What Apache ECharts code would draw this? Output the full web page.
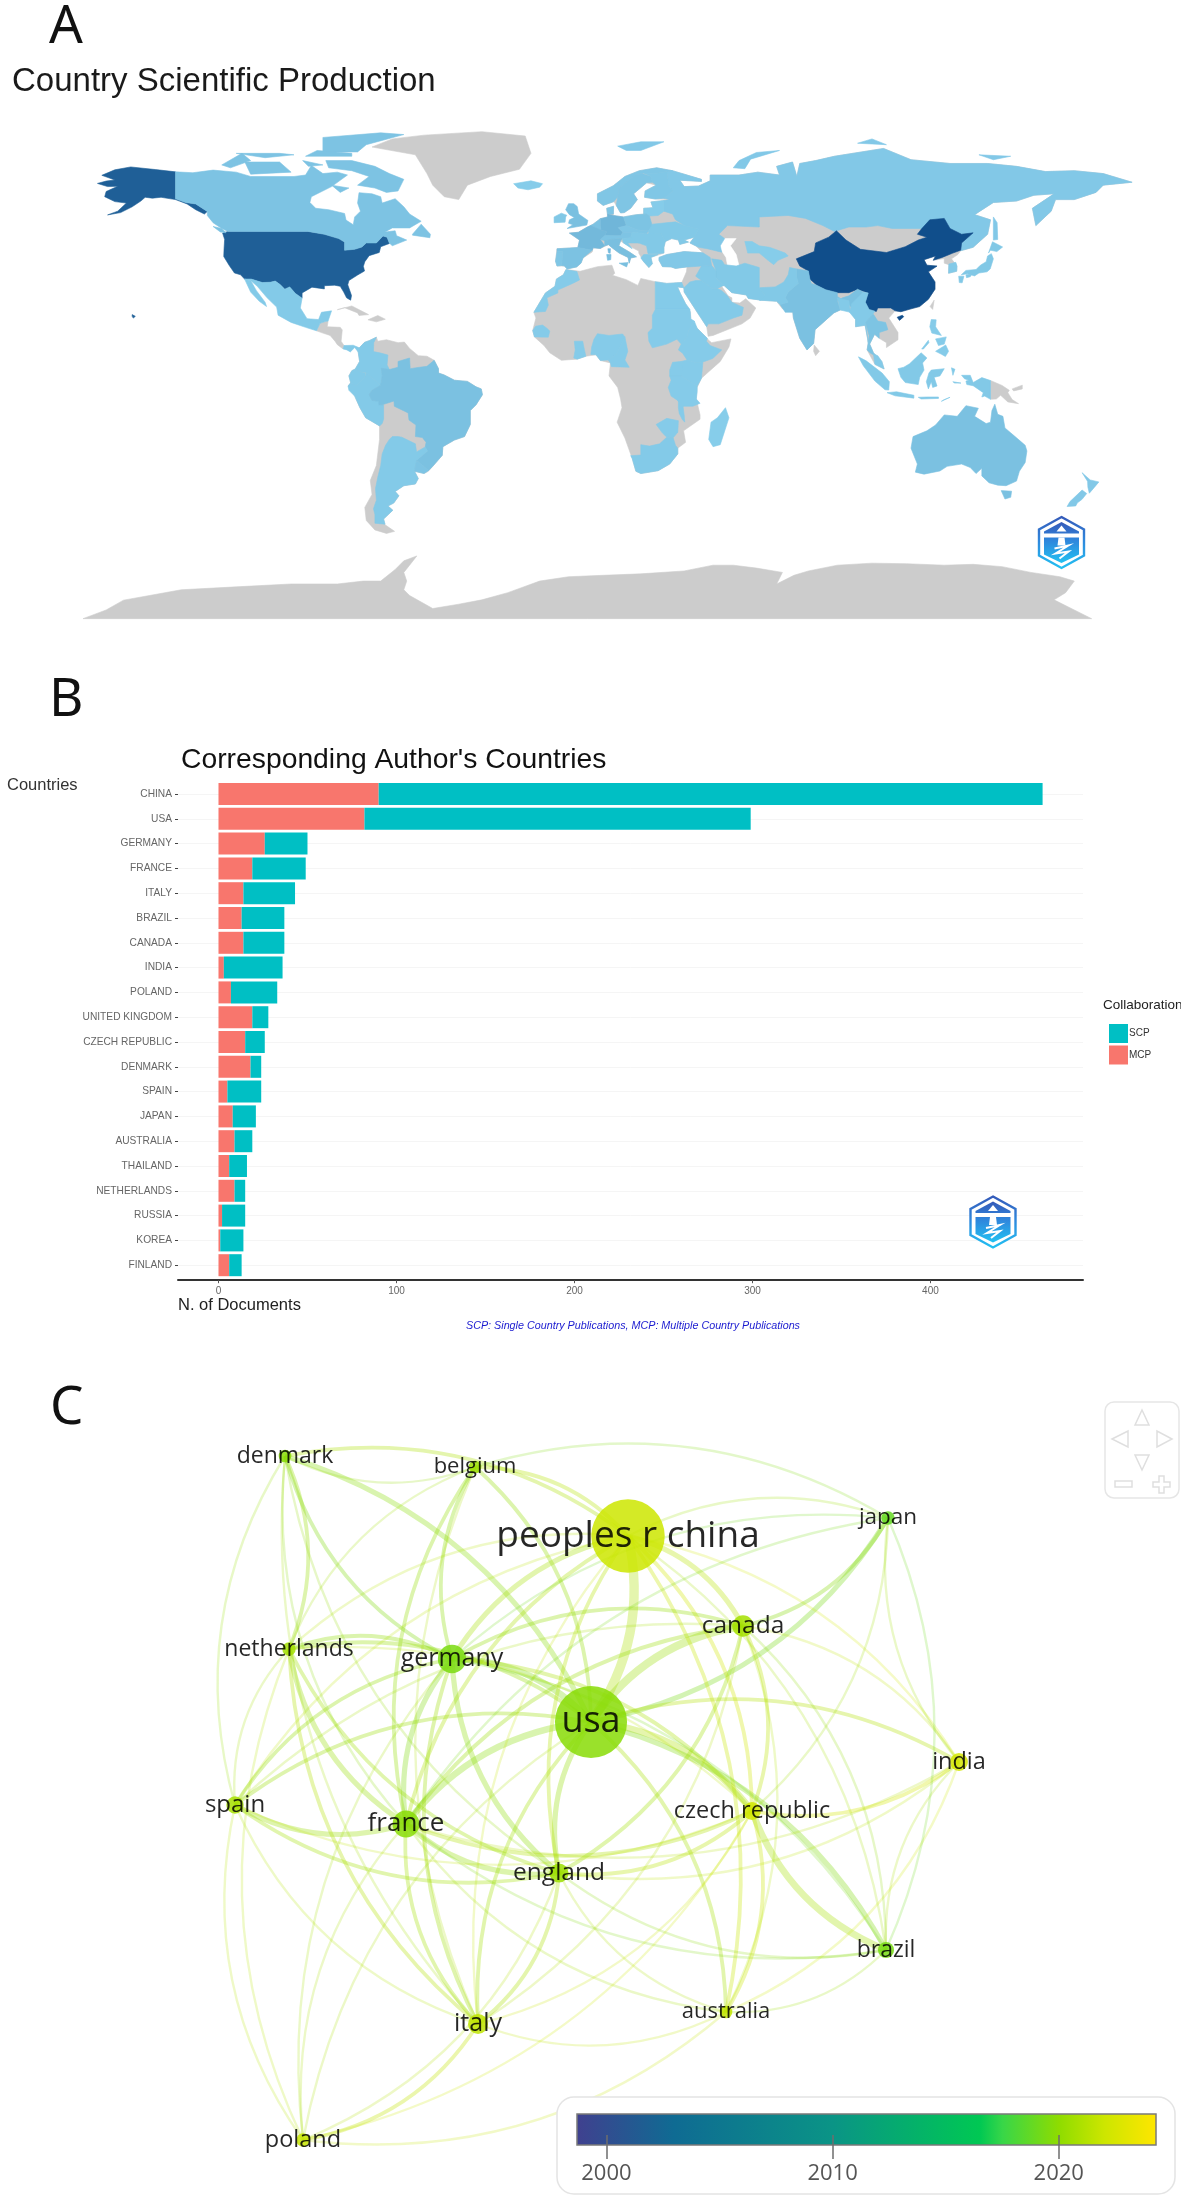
<!DOCTYPE html>
<html>
<head>
<meta charset="utf-8">
<title>Country production and collaboration</title>
<script src="https://cdn.jsdelivr.net/npm/echarts@6/dist/echarts.min.js"></script>
<style>
html,body{margin:0;padding:0;background:#fff;}
#main{width:1181px;height:2200px;}
</style>
</head>
<body>
<div id="main"></div>
<script>
// panel A: documents per country, colour is linear between the two blues
var mapCountries = ['China','USA','Alaska','Hawaii','Germany','France','Italy','Spain','Portugal','UK','Ireland','Benelux','Denmark','Norway','Sweden','Finland','Iceland','Baltics','Poland','CzechSlovakia','AlpineStates','Adriatic','Danube','Ukraine','Greece','Russia','Sakhalin','Novaya Zemlya','Severnaya Zemlya','Svalbard','Canada','Baffin','Ellesmere','Victoria Isl','Banks','Devon','Melville','Somerset','Southampton','Newfoundland','Vancouver','Mexico','Baja','Panama','Colombia','Ecuador','Peru','Brazil','Argentina','Uruguay','Morocco','Egypt','Sudan','Ethiopia','Kenya','Uganda','Tanzania','Malawi','Zimbabwe','South Africa','Nigeria','Cameroon','Ghana','Senegal','Madagascar','Turkey','Iran','Iraq','Saudi Arabia','Uzbekistan','Pakistan','India','Bangladesh','Myanmar','Thailand','Malaysia','Sumatra','Java','Borneo','Sulawesi','West Papua','Sunda','Halmahera','Seram','Luzon','Mindanao','Visayas','Palawan','Honshu','Kyushu','Shikoku','Hokkaido','South Korea','Australia','Tasmania','NZ North','NZ South'];
var mapValues = [1000,870,870,870,190,165,120,95,60,110,50,90,70,60,70,55,15,15,80,60,75,40,40,40,40,45,45,45,45,45,85,85,85,85,85,85,85,85,85,85,85,30,30,30,30,30,30,105,30,75,20,25,20,20,20,20,20,20,20,35,20,20,20,20,10,45,40,30,35,10,40,105,30,30,80,30,40,40,40,40,40,40,40,40,20,20,20,20,50,50,50,50,30,100,100,45,45];

// panel B: corresponding author's countries
var barCountries = ['CHINA','USA','GERMANY','FRANCE','ITALY','BRAZIL','CANADA','INDIA','POLAND','UNITED KINGDOM','CZECH REPUBLIC','DENMARK','SPAIN','JAPAN','AUSTRALIA','THAILAND','NETHERLANDS','RUSSIA','KOREA','FINLAND'];
var mcpValues = [90,82,26,19,14,13,14,3,7,19,15,18,5,8,9,6,9,2,1,6];
var scpValues = [373,217,24,30,29,24,23,33,26,9,11,6,19,13,10,10,6,13,13,7];
var docTicks = [0,100,200,300,400];

// panel C: collaboration network, positions
var nodeNames = ['peoples r china','usa','germany','france','canada','england','italy','spain','czech republic','india','brazil','netherlands','denmark','belgium','japan','australia','poland'];
var nodeX = [628,591,452,406,743,559,478,235,752,959,886,289,285,475,888,726,303];
var nodeY = [176,362,299,464,266,513,664,445,451,402,590,289,96,107,158,652,780];
var nodeWeight = [135,130,20,18,11.5,9,10,7.5,8,8,6.5,4.5,4,4,4.5,4,4.5];
var nodeYear = [2022,2019.8,2019.4,2019.8,2020.7,2020.4,2021.5,2020.8,2022.2,2022.3,2019.3,2020.6,2019.8,2020.4,2018.8,2021.6,2021.8];
var nodeFontSize = [37,36,25,26,24.5,24.5,25,24,23.5,23.5,23,23,23,22,22.5,22,23.5];
var netLinks = [
  ['usa','peoples r china',6],['usa','germany',4],['usa','france',4],['usa','canada',5],['usa','england',3],['usa','czech republic',4],['usa','brazil',3],['usa','japan',3],['usa','italy',2],['usa','netherlands',2],['usa','denmark',3],['usa','belgium',2],['usa','spain',2],['usa','india',2],['usa','australia',2],['usa','poland',1],
  ['peoples r china','canada',3],['peoples r china','germany',3],['peoples r china','belgium',2],['peoples r china','denmark',2],['peoples r china','france',2],['peoples r china','england',2],['peoples r china','japan',1],['peoples r china','czech republic',2],['peoples r china','australia',2],['peoples r china','italy',1],['peoples r china','netherlands',1],['peoples r china','india',1],['peoples r china','brazil',1],['peoples r china','spain',1],
  ['germany','france',3],['germany','england',3],['germany','denmark',2],['germany','netherlands',2],['germany','belgium',2],['germany','italy',2],['germany','spain',2],['germany','canada',2],['germany','czech republic',2],['germany','poland',1],['germany','japan',1],['germany','brazil',1],
  ['france','england',3],['france','spain',3],['france','italy',2],['france','netherlands',3],['france','belgium',2],['france','canada',2],['france','denmark',1],['france','czech republic',2],['france','japan',1],['france','brazil',1],['france','india',1],['france','poland',1],['france','australia',1],
  ['england','italy',2],['england','spain',2],['england','netherlands',2],['england','czech republic',2],['england','canada',2],['england','australia',1],['england','india',1],['england','brazil',1],['england','denmark',1],['england','poland',1],
  ['canada','czech republic',2],['canada','japan',2],['canada','india',1],['canada','brazil',1],['canada','italy',1],['canada','australia',1],['canada','spain',1],
  ['czech republic','brazil',4],['czech republic','india',2],['czech republic','australia',2],['czech republic','italy',1],['czech republic','spain',1],['czech republic','netherlands',1],['czech republic','poland',1],['czech republic','japan',1],
  ['denmark','netherlands',2],['denmark','belgium',1],['denmark','italy',1],['denmark','spain',1],
  ['belgium','netherlands',1],['belgium','japan',1],['belgium','italy',1],
  ['netherlands','spain',1],['netherlands','italy',2],['netherlands','poland',1],
  ['spain','italy',1],['spain','poland',1],
  ['india','japan',1],['india','brazil',1],['india','australia',1],
  ['australia','poland',1],['australia','brazil',1],['australia','italy',1],
  ['italy','poland',2],['japan','brazil',1]
];
var inwardLinks = ['india|japan','india|brazil','usa|peoples r china','czech republic|brazil','denmark|netherlands','canada|japan','usa|japan','denmark|belgium'];

// colour bar of panel C
var yearStops = [1998.7,2003,2010,2016.5,2017.5,2020,2022,2024.3];
var yearColors = ['#40408f','#0f6b93','#0a9486','#00c853','#38d648','#8fdc00','#cde600','#ffe600'];
var yearTicks = [2000,2010,2020];

// coarse outlines in lon/lat, grey land first so coloured countries lie over it
var mapShapes = {
 'Eurasia':['-9 43,-1.8 43.4,-1.2 46,-4.7 48.4,-1.6 48.7,1.5 50.5,3.5 51.5,6 53.4,8.5 54,8.2 57,10.6 57.7,10.5 54.5,14 54,18.5 54.8,21 55,21 57,24.2 57.2,23.5 59.2,28 59.7,30 60,25 60.2,21.3 60.8,21.5 63,25.3 65,22 65.8,17.5 62,18.8 60,16.5 57,14.3 55.5,13 55.4,11.5 58,10.7 59.3,7 58,5 59.5,5 62,10.5 64.8,14.5 68,19.5 70,25.5 71,31 70,41 67,41 66.3,33.5 66.7,35 64.5,40 64.7,44 66.5,44 68.5,54 68.5,60.5 69.5,68 68.5,67 71.5,72.5 73,74 68,75 72.5,80.5 73.5,87 75,104 77.7,113.5 73.8,127 72.5,140 72.5,150 71.5,160 69.7,170 70,180 69,190 66,180 65,177.5 62.5,170 60,163.5 60,162 56,156.7 51,155.5 57,163 62,156 61.5,150 59.5,142 59,135.5 54.8,141 53,140 48,135 43.5,130.7 42.3,129.7 41,127.5 39.5,129.4 37,129.3 35.2,126.5 34.5,126.6 37.5,125 38,125 39.6,121.2 39,122 40.5,118 39.2,119 37.3,122.5 37,119.5 35,121.8 31.5,121.8 29,119.5 25.5,116.5 23,113.5 22.2,110 21.2,108 21.5,105.8 19,109 14,109 11.5,105 8.8,105 10.5,102.5 12,100.9 13.4,99.2 10,100.5 7,103.4 4,104.2 1.4,101 3,98.3 8,98.7 10.5,97.6 16.5,94.3 16,94.3 18.5,91.8 22.3,89 21.8,86.8 20.8,80.3 15,80.1 13,79.8 10.2,77.5 8,75 12,72.8 19,72.6 21,69 22.2,67 24.8,61.6 25.2,57.2 25.8,56.5 27,51.5 27.8,48.8 30.3,48 30,50.2 26.7,51.5 26,51.5 24.5,54.3 24.2,56.3 25.7,59.8 22.5,57.8 19,55 17,45 13,43.3 12.7,42.8 16,39.2 21.5,35 28,34.9 29.5,34.2 31.3,35.8 35,36 36.7,32 36.2,30.5 36.7,27.5 36.8,26.3 39,26.3 40,29 41,35 42,41.5 41.6,39 44,37 45,38.5 47,35 46,36.5 45.3,33.5 44.5,33 46,30.7 46.5,28.5 45.5,28 43.5,28 41.5,26 40.8,23.5 40,24 37.8,22.8 36.5,21 38.5,19.3 41.5,19.3 42.2,14 45,13 45.7,12.4 44,16 41.9,18.5 40.2,16.5 39.8,16 38,15.6 40,12.5 41.5,10.5 43,8.8 44.4,6 43.1,3.5 43.3,3.2 41.9,0 39.8,-0.7 38,-2.2 36.7,-5.5 36,-6.4 37,-9 37,-9.5 38.7'],
 'Africa':['-5.9 35.8,-1 35.2,5 36.8,10 37.3,11 34.5,10.2 33.8,15 32.3,19 30.3,20 32.7,25 31.6,29 31,32.3 31.2,34.2 31.3,34.9 29.5,32.7 29.8,33.7 27.5,35.5 24,37.2 21,37.3 18.7,39.5 15.5,43 12,43.3 11.5,44.5 10.5,51.2 11.8,50.5 9,47.5 4,43 0,41 -1.8,39.5 -5,39.2 -9,40.5 -14.5,40.5 -16,34.8 -20,35.5 -24,32.8 -26,32.8 -28,30 -31.5,26 -33.8,20 -34.8,18.3 -34,17 -29.5,14.5 -22.5,11.8 -17,13.5 -12,13 -9,12 -5,9 -1,9.5 3.5,6 4.3,4.5 6.3,1 5.8,-2 4.8,-7.5 4.4,-11.5 7,-13.5 9.5,-16.8 12.5,-17.4 14.7,-16.3 19,-17 21,-13 27.7,-9.7 30,-9.2 32.5,-6.8 34'],
 'South America':['-77.4 8.7,-75.6 10.6,-74 11.2,-71.5 12.4,-71 11,-68 11.5,-64 10.5,-61.8 10.7,-60 8.5,-57 6,-54 5.8,-51.5 4.4,-50 1.5,-50 0,-48 -0.7,-44.5 -2.5,-40 -2.9,-37 -4.8,-35.2 -5.5,-34.8 -7.5,-37 -11,-39 -13,-39 -17.8,-41 -22,-44.5 -23.2,-48.5 -25.5,-48.7 -28.5,-52 -32.3,-53.5 -34,-55 -34.8,-58.3 -34,-57 -36.5,-58 -38.4,-62 -39,-65 -41,-63.7 -42.5,-65.5 -45,-67.5 -46,-65.8 -47.5,-69 -50.5,-68.5 -52.5,-65.2 -54.8,-68 -55.5,-72 -54.3,-75 -51,-75.5 -46.5,-73 -42,-73.6 -37.2,-71.5 -32,-70.4 -23,-70.4 -18.3,-75.2 -15.5,-77.2 -12,-79 -8,-81.3 -4.5,-80.4 -3.4,-81 -1,-80 0.8,-78.8 1.4,-77.3 4,-77.8 7.3'],
 'Greenland':['-73 78.2,-66 81,-55 82.3,-35 83.5,-20 82,-18 76,-22 70.5,-32 68,-40 65,-43 60,-48 61,-52 65,-54 69,-58 75.5'],
 'Antarctica':['-173 -85,-165 -82,-159 -78.6,-150 -77,-139 -75,-120 -74,-101 -73,-85 -73,-76 -72,-70 -72,-65 -68,-62 -65,-57.5 -63.3,-60 -66.5,-62 -69,-61 -72,-62 -75,-60 -77,-52 -81.5,-43 -80,-35 -78.5,-26 -76,-15 -72,-5 -70.5,7 -70,20 -69.5,35 -68.5,45 -66.5,52 -66.5,60 -67.5,69 -69,67 -73,73 -70,78 -68.5,88 -66.5,100 -65.8,112 -66,125 -66.5,135 -66.2,145 -67,155 -69,165 -70.5,170 -72,167 -76,163 -78.5,170 -82,176 -85'],
 'Central America':['-92.2 14.6,-91 17.2,-89.2 17.8,-88.2 18,-88.5 16,-84 15.8,-83.3 14.9,-83.7 11,-82.7 9.5,-83 8.3,-85 9.8,-85.8 11,-87.5 13,-90 13.8'],
 'Cuba':['-85 21.9,-80 23.2,-74.2 20.2,-77.5 19.9,-78 20.8,-82.5 22.6'],
 'Hispaniola':['-74.4 18.4,-71 19.9,-68.4 18.6,-71.5 17.7'],
 'Sri Lanka':['80 9.7,81.8 7.5,80.5 6,79.8 7.5'],
 'Taiwan':['121.5 25.2,121 22,120.1 23'],
 'Papua New Guinea':['141 -2.6,145 -4.3,147.5 -6,147 -6.8,148.5 -9.2,150.7 -10.6,147 -10,144.5 -7.7,143 -9,141 -9.1'],
 'New Britain':['148.5 -5.5,152 -4.2,152 -5.5,149 -6.2'],
 'Caspian':['47 45,49 46.5,53 46.5,51 44,53 41,54 37,50 37.3,49.5 40,47.5 43'],
 'USA':['-124.7 48.4,-122.8 49,-95.2 49,-89.5 48,-84.5 46.5,-82.5 45.3,-82.5 42.5,-79 42.8,-76.5 43.6,-75 45,-71.5 45,-69.2 47.4,-67.8 47,-67 44.8,-70 43.7,-70.5 41.7,-74 40.6,-75.5 38.5,-76 36.9,-75.6 35.3,-78 33.9,-81 32,-81.4 30.5,-80.1 26.8,-80.4 25.2,-81.8 26,-82.8 28,-84 30,-86 30.4,-89.5 30.2,-89.5 29.1,-93.8 29.7,-97.2 27.7,-97.2 25.9,-99.5 27.5,-101.5 29.8,-103.2 29,-104.8 30.6,-106.5 31.8,-108.2 31.4,-111 31.3,-114.8 32.5,-117.1 32.5,-118.5 34,-120.6 34.6,-122.4 37.2,-124.3 40.3,-124.2 43,-124 46.2'],
 'Alaska':['-141 69.6,-148 70.4,-156.5 71.3,-162 70.3,-166.5 68.4,-162 66.8,-165 66.4,-168 65.6,-164.5 64.5,-161 64.6,-165 62.8,-165.5 61,-162 59.3,-158 58.8,-161 56,-164.5 54.7,-160 55.5,-156 57.5,-153 59.5,-151.5 60.8,-149 60.5,-146 60.8,-141 60,-137 58.5,-134 56.5,-131 55,-130 55.9,-134 58.5,-137.5 59,-141 60.3'],
 'Hawaii':['-156 20.2,-154.9 19.6,-155.6 19,-156 19.6'],
 'Canada':['-141 69.6,-135 69.3,-128 70.2,-120 69.5,-115 68,-108 68,-100 68,-96 68.5,-94 71.8,-90 69,-85 69.5,-81.5 68.5,-87 64.5,-94 61,-94.5 59,-92.5 57,-88 56.5,-82.5 55.2,-82 52.9,-79.5 51.3,-79 54,-77 56,-78 58.8,-77.5 62.4,-73 62,-70 61,-69.5 58.8,-65 60.3,-62 57.5,-60 55,-56 52.5,-60 50.2,-66 50.2,-68.5 48.8,-65 49.2,-64.5 47.5,-61 46,-66 44,-67 45,-67.8 47,-69.2 47.4,-71.5 45,-75 45,-76.5 43.6,-79 42.8,-82.5 42.5,-82.5 45.3,-84.5 46.5,-89.5 48,-95.2 49,-122.8 49,-125 50,-128 52,-130 54.5,-130 55.9,-134 58.5,-137.5 59,-141 60.3'],
 'Baffin':['-80 73.5,-72 71.5,-67 69,-62 67,-64 63,-68 62.5,-72 64,-78 65,-74 68,-80 70,-88 71,-89 73.5'],
 'Victoria Isl':['-117 73,-105 73,-101 69.5,-115 68.8'],
 'Banks':['-125 72,-118 76,-115 73.5,-122 71'],
 'Ellesmere':['-90 76.5,-78 76.5,-75 79,-62 82.5,-70 83.1,-90 81.5'],
 'Melville':['-120 76,-105 76,-100 75.5,-110 74.5'],
 'Devon':['-96 75,-80 75,-80 76,-92 77'],
 'Somerset':['-97 73.5,-90 72,-95 71.5'],
 'Southampton':['-87 65,-81 64,-84 62.5'],
 'Newfoundland':['-59 47.7,-53 46.8,-52.8 48,-56 51.5,-59 48'],
 'Vancouver':['-128 50.7,-125 50,-123.5 48.5,-125.5 48.8'],
 'Mexico':['-117.1 32.5,-114.8 32.5,-111 31.3,-108.2 31.4,-106.5 31.8,-104.8 30.6,-103.2 29,-101.5 29.8,-99.5 27.5,-97.2 25.9,-97.8 22.5,-95.5 18.8,-91.5 18.5,-90.5 21,-87 21.5,-88.2 18,-89.2 17.8,-91 17.2,-92.2 14.6,-96 15.8,-101 17.5,-105.5 20,-106 22.8,-109.3 26,-112.7 30,-114.8 31.8'],
 'Baja':['-117.1 32.5,-114.9 31.8,-113 28.5,-110 24.5,-109.5 23,-112 24.8,-115 28'],
 'Panama':['-83 8.3,-82.7 9.5,-79.5 9.6,-77.4 8.7,-77.8 7.3,-79 8.8,-80.5 7.3,-81.7 8'],
 'Colombia':['-77.4 8.7,-75.6 10.6,-74 11.2,-71.5 12.4,-72.4 10.5,-72.5 7.4,-70 6.9,-67.5 6.2,-67.8 2.8,-67 1.2,-69.8 1.7,-69.5 -1,-70 -4.2,-72 -2.5,-75 0.1,-77 0.4,-78.8 1.4,-77.3 4,-77.8 7.3'],
 'Ecuador':['-78.8 1.4,-77 0.4,-75.3 -0.1,-75.5 -1.5,-78.5 -4.5,-80.4 -3.4,-81 -1,-80 0.8'],
 'Peru':['-81.3 -4.5,-80.4 -3.4,-78.5 -4.5,-75.5 -1.5,-75 0.1,-72 -2.5,-70 -4.2,-73 -6,-74 -7.5,-73 -9.5,-70.6 -9.8,-70.6 -11,-69 -11,-69 -16,-69.5 -17.5,-70.4 -18.3,-75.2 -15.5,-77.2 -12,-79 -8,-81 -6'],
 'Brazil':['-51.5 4.4,-50 1.5,-50 0,-48 -0.7,-44.5 -2.5,-40 -2.9,-37 -4.8,-35.2 -5.5,-34.8 -7.5,-37 -11,-39 -13,-39 -17.8,-41 -22,-44.5 -23.2,-48.5 -25.5,-48.7 -28.5,-52 -32.3,-53.4 -33.7,-57.6 -30.2,-53.8 -27,-54.6 -25.6,-54.3 -24,-55.6 -22.3,-58 -22,-57.8 -18,-60.2 -16.3,-60.5 -13.8,-65.3 -11.5,-65.4 -9.7,-69.5 -11,-70.6 -11,-70.6 -9.8,-73 -9.5,-74 -7.5,-73 -6,-70 -4.2,-69.5 -1,-69.8 1.7,-67 1.2,-64 2,-64 4,-60 5.2,-59.8 1.5,-56.5 2,-54 2.3'],
 'Argentina':['-66 -22,-64 -22,-62.7 -22.2,-58 -24.5,-57.6 -27.3,-54.6 -25.6,-53.8 -27,-57.6 -30.2,-58.3 -34,-57 -36.5,-58 -38.4,-62 -39,-65 -41,-63.7 -42.5,-65.5 -45,-67.5 -46,-65.8 -47.5,-69 -50.5,-68.5 -52.3,-72 -52,-72 -49,-72.5 -47,-71.5 -44,-71.8 -40,-71 -36,-70 -32,-69.5 -28,-68.3 -25,-67 -23'],
 'Uruguay':['-57.6 -30.2,-53.4 -33.7,-53.5 -34,-55 -34.8,-58.3 -34'],
 'Morocco':['-5.9 35.8,-2.1 35.1,-1.2 32.2,-3.6 31,-8.7 28.7,-8.7 27.7,-12.5 26,-12 23.5,-13 21.3,-17 21,-13 27.7,-9.7 30,-9.2 32.5,-6.8 34'],
 'Egypt':['25 31.6,29 31,32.3 31.2,34.2 31.3,34.9 29.5,32.7 29.8,33.7 27.5,35.5 24,37 22,25 22,25 29.5'],
 'Sudan':['25 22,37 22,37.3 18.7,38.5 18,36.5 14.5,36 12.5,34 10,32.5 11.7,29 10,24 8.7,22.8 11,22.5 14,24 15.5,24 20'],
 'Ethiopia':['36.5 14.5,38.5 18,39.5 15.5,43 12,42.7 11,44 9.5,48 8,44.9 5,42 4,39.5 3.5,36 4.5,34.5 6.8,33 8,34 10,36 12.5'],
 'Kenya':['34 4,36 4.5,39.5 3.5,41.5 3.9,41 -1.8,39.5 -4.6,37.7 -3.5,34 -1'],
 'Uganda':['30 -1,34 -1,34.5 1,34 4,31 3.7,30 1'],
 'Tanzania':['30 -1,34 -1,37.7 -3.5,39.5 -4.6,39.5 -6.5,39.2 -9,40.5 -10.5,38 -11.5,34.6 -11.5,32.5 -9.3,30.5 -8,29.5 -5,30.5 -2.5'],
 'Malawi':['33 -9.5,34.6 -11.5,35 -14.5,35.2 -17,34.3 -16,33.3 -14,33 -12'],
 'Zimbabwe':['25.3 -17.8,29 -15.7,33 -16.5,32.8 -20.5,31.2 -22.4,29 -22.2,27.5 -20.8'],
 'South Africa':['16.5 -28.6,20 -28.4,20 -24.8,23 -25.3,26.5 -24.5,29 -22.2,31.2 -22.4,32 -25,32.8 -26,32.8 -28,30 -31.5,26 -33.8,20 -34.8,18.3 -34,17 -29.5'],
 'Nigeria':['2.7 6.4,3 9,3.8 11.7,5 13.6,9 13,13.7 13.5,14.5 12.5,13 9.5,11.5 6.5,8.7 4.5,6 4.3,4.5 6.3'],
 'Cameroon':['8.7 4.5,11.5 6.5,13 9.5,14.5 12.5,15 10,15.5 7.5,14.5 4.5,16 2,9.8 2.2,9.5 3.5'],
 'Ghana':['-3 11,-0.1 11,0.5 8,1 5.8,-2 4.8,-3.2 5.2,-2.7 8'],
 'Senegal':['-16.8 12.5,-12 12.4,-11.5 14.5,-12.5 15.5,-14 16.6,-16.4 16.2,-17.4 14.7'],
 'Madagascar':['49.3 -12,50.5 -15.5,47.5 -24.8,45 -25.5,43.5 -23,44.3 -17,46.5 -15.5'],
 'Russia':['28 59.7,30 60,28 60.5,31 62.9,29.7 65,29 69.7,31 70,41 67,41 66.3,33.5 66.7,35 64.5,40 64.7,44 66.5,44 68.5,54 68.5,60.5 69.5,68 68.5,67 71.5,72.5 73,74 68,75 72.5,80.5 73.5,87 75,104 77.7,113.5 73.8,127 72.5,140 72.5,150 71.5,160 69.7,170 70,180 69,190 66,180 65,177.5 62.5,170 60,163.5 60,162 56,156.7 51,155.5 57,163 62,156 61.5,150 59.5,142 59,135.5 54.8,141 53,140 48,135 43.5,130.7 42.3,131 45,135 48.5,131 48,127 50,125 53.5,120 53,120 50,114 50,107 50,102 51,98 50.5,92 50.5,87 49,83 51,77 53.5,71 54.5,61 54,61 50.5,50 51,47 48,49 46.5,47.5 44,48 41.8,43 43,40 43.5,37 45,38.5 47,40 49.7,35 51,32 53,31 55,28 56'],
 'China':['73.8 39.5,80 42,80.5 45,85 47,87.7 49.2,91 46,96 42.8,105 41.7,111.5 43.7,116 46,119 47,115.7 48,117 49.7,120 53,125 53.5,127 50,131 48,135 48.5,131 45,130.7 42.5,128 41.5,124.3 40,121.2 39,122 40.5,118 39.2,119 37.3,122.5 37,119.5 35,121.8 31.5,121.8 29,119.5 25.5,116.5 23,113.5 22.2,110 21.2,108 21.5,106.5 22.5,102 22.5,101.5 21.3,99 22,97.7 24.5,98.7 27.7,95 29,92 27.8,88 27.8,84 28.8,81 30.3,78.5 32.5,78 35.3,75 37','108.7 19.3,110.5 20,111 19.5,109.5 18.2'],
 'India':['68.2 23.7,70 21,72.6 21,72.8 19,75 12,77.5 8,79.8 10.2,80.1 13,80.3 15,86.8 20.8,89 21.8,88 25,89.8 26,92 26.7,95 29,97 28,95 25.8,93 22.5,91.8 24,92 25,89.8 25.3,88 26.5,88 27.8,84 28.8,81 30.3,79 31,78.5 32.5,78 35.3,74 36,74 33,74.5 31,71 28,70 26,71 24.5'],
 'Bangladesh':['88 26,92 25,92.5 21,89 21.8'],
 'Myanmar':['92.2 21,93 24,94.5 25.5,97 28,98.7 27.7,97.7 24.5,99 22,101 21.4,100 20,97.8 17.5,98.7 10.5,98.5 12,97.6 16.5,94.3 16,94.3 18.5'],
 'Thailand':['97.8 17.5,100 20,100.5 20.3,102 18,104.7 17.5,105.5 15,102.5 14,102.5 12,100.9 13.4,99.2 10,100.5 7,101.5 5.8,99.5 6.8,98.3 8,98.7 10.5,99 13'],
 'Malaysia':['100.5 6.6,102 6,103.4 4,104.2 1.4,101 3'],
 'Pakistan':['61 25.2,67 24.8,68.2 23.7,71 24.5,70 26,71 28,74.5 31,74 33,74 36,71.5 36.5,71 34,69.5 31.5,66.5 29.8,61 29.5,63 27'],
 'Iran':['44.5 39.5,48 39,49 37.5,53 37,56 38,61 36.5,61 31.5,61 29.5,63 27,61.6 25.2,57.2 25.8,56.5 27,51.5 27.8,48.8 30.3,46 33,46 35.5'],
 'Iraq':['39 33.5,41 37,44.5 37.2,46 35.5,46 33,48.8 30.3,48 30,46.5 29.2,44.7 29.2,41 32'],
 'Saudi Arabia':['34.9 29.5,37 31.5,39 32,41 32,44.7 29.2,46.5 29.2,48 28.5,50 26.7,51.5 24.5,55.5 22.7,55 20,52 19,47 17,43.3 17,42.8 16,39.2 21.5,35 28'],
 'Turkey':['26.3 40,29 41,35 42,41.5 41.6,44 40,44.5 37.2,41 37,36.5 36.7,36 36.7,32 36.2,30.5 36.7,27.5 36.8,26.3 39'],
 'Uzbekistan':['56 45.5,58.5 45.5,61 44,64.5 43.5,66 43,70 41.5,71 40.5,67.5 39,66 37.5,64 39,61 41.5,57 41.5'],
 'Norway':['5 59.5,7 58,10.7 59.3,12 61,12.5 64,15 66,18 68.5,21 69.2,25 69,29 69.7,31 70,25.5 71,19.5 70,14.5 68,10.5 64.8,5 62'],
 'Sweden':['11.5 58,13 55.4,14.3 55.5,16.5 57,18.8 60,17.5 62,22 65.8,24 66,23.5 68,20.5 69,18 68.5,15 66,12.5 64,12 61'],
 'Finland':['21.3 60.8,25 60.2,28 60.5,31 62.9,29.7 65,29 69.7,25 69,21 69.2,23.5 68,24 66,25.3 65,21.5 63'],
 'Baltics':['21 55,21 57,24.2 57.2,23.5 59.2,28 59.7,28 56,26 54.5,23 54.3,22 55'],
 'Denmark':['8.5 54.9,8.2 57,10.6 57.7,10.5 55'],
 'Germany':['6 53.4,8.5 54,8.5 54.9,10.5 54.5,14 54,15 51,12.2 50.3,13.8 48.7,13 47.5,7.6 47.6,8.2 49,6.2 49.5,6 51'],
 'Benelux':['3.5 51.5,6 53.4,6 51,6.2 49.5,2.6 51'],
 'France':['2.6 51,6.2 49.5,8.2 49,7.6 47.6,6 46.2,7.5 44,6 43.1,3.5 43.3,3.2 42.5,-1.8 43.4,-1.2 46,-4.7 48.4,-1.6 48.7,1.5 50.5','8.6 43,9.5 43,9.4 41.4,8.8 41.6'],
 'AlpineStates':['6 46.2,7.6 47.6,13 47.5,13.8 48.7,17 48.7,16.5 46.8,13 46.5,10 46.3,7.5 45.8'],
 'Spain':['-9 43,-1.8 43.4,3.2 42.5,0 39.8,-0.7 38,-2.2 36.7,-5.5 36,-6.4 37,-7.4 37.2,-7 42,-9 42'],
 'Portugal':['-9 42,-7 42,-7.4 37.2,-9 37,-9.5 38.7'],
 'Italy':['7.5 45.8,10 46.3,13.6 46.5,13 45.7,12.4 44,16 41.9,18.5 40.2,16.5 39.8,16 38,15.6 40,12.5 41.5,10.5 43,8.8 44.4,7.5 44','8.2 41,9.7 41,9.6 39.2,8.5 39','12.5 38,15.6 38.2,15.1 36.7'],
 'Poland':['14 54,18.5 54.8,22 55,23 54.3,24 50.8,22.7 49.2,19 49.5,15 51'],
 'CzechSlovakia':['12.2 50.3,15 51,19 49.5,22.7 49.2,22 48.2,17 48.7,13.8 48.7'],
 'Ukraine':['24 51.5,32 52.3,35 51,40 49.7,38.5 47,35 46,36.5 45.3,33.5 44.5,33 46,30.7 46.5,28.5 45.5,27 48.3,22.7 48,22.7 49.2'],
 'Danube':['16.5 46.8,17 48.7,22 48.2,27 48.3,28.5 45.5,28 43.5,28 41.5,26 41.3,22.5 41.3,22 44,19.3 45,16.5 46'],
 'Greece':['20 39.8,21 41,26 41,26 40.8,23.5 40,24 37.8,22.8 36.5,21 38.5'],
 'Adriatic':['13.6 46.5,16.5 46.8,19.3 45,15.5 45,17 43,14 45'],
 'UK':['-5.5 50,1.3 51.2,1.7 52.8,-1.5 55,-2 57.6,-3.2 58.6,-5 58.6,-6 56.5,-4.7 54.8,-3 53.8,-4.7 53,-5 51.8,-3.5 51.3'],
 'Ireland':['-10 52,-6.2 52.2,-6 54,-5.6 54.6,-7.5 55.3,-10 54'],
 'Iceland':['-24 65.5,-18 66.5,-14 65.5,-15 64.3,-19 63.4,-22.5 64'],
 'Svalbard':['12 78.5,20 80,28 80,20 77,15 77'],
 'Novaya Zemlya':['52 71,56 70.7,58 74,68 77,60 76.3,54 73.5'],
 'Severnaya Zemlya':['95 79.5,105 79,100 81','137 75.5,148 75,142 73.8'],
 'Sakhalin':['142 54,143.3 52,143.5 46.2,142 46,142 50'],
 'Honshu':['130.9 34,132.5 35.5,136 35.8,137.5 37.3,139.5 38.5,140 40.5,141.3 41.3,142 39.5,140.9 36,139.8 35,137 34.6,135.5 33.6,133 34.3'],
 'Kyushu':['130 33.5,131.8 33.5,131.2 31.2,130.2 31.3'],
 'Shikoku':['132.5 34,134.5 34.2,134 33.3,132.7 33'],
 'Hokkaido':['140.3 41.5,141.7 45.4,145.2 43.6,143.2 42,141 42.5'],
 'South Korea':['126.6 37.7,129 38.3,129.4 37,129.3 35.2,126.5 34.5'],
 'Luzon':['120.5 18.5,122.2 18.4,122 16,124 13,120.7 13.8,120 16'],
 'Mindanao':['122 7.5,125.5 9.7,126.5 7.5,125.4 5.7,124 6.5'],
 'Visayas':['122 11.8,125.7 12.5,125 10,123 9.5'],
 'Palawan':['117.2 8.3,119.5 11.3,119.7 10.5,117.8 8.3'],
 'Sumatra':['95.3 5.6,98 4.2,103.5 0,106 -3,105.8 -5.9,104.5 -5.8,101 -2.8,97 2.5'],
 'Java':['105.2 -6.8,108.5 -6.5,114.5 -7.7,114.5 -8.7,108 -7.9'],
 'Borneo':['109 1.5,111 2,113 3.2,117 7,119 5.2,117.5 3.5,118 1,116.5 -1.5,116 -4,111.5 -3.3,110 -1.5'],
 'Sulawesi':['119.5 -5.5,120.5 -3,121 -5,122.5 -4.5,121.5 -1.5,123.5 -1,125 1.5,120.5 1,119.7 0,118.8 -3'],
 'West Papua':['131 -0.8,134 -0.8,135 -3.3,138 -1.6,141 -2.6,141 -9.1,139 -8,138 -8.3,138.5 -6.8,135 -4.4,132.8 -4,132.5 -2.8,133.5 -2.5,132 -2'],
 'Sunda':['116 -8.4,119 -8.3,123 -8.3,123 -8.8,117 -9','124 -9.8,127 -8.4,125 -9.2'],
 'Halmahera':['127.5 1.8,128.7 1.3,128 -0.8'],
 'Seram':['128 -3,130.8 -3.5,128.5 -3.5'],
 'Australia':['114.2 -22,113.5 -26,115.7 -31.5,115 -34.3,118 -35,123.5 -33.9,126 -32.3,131 -31.5,134 -32.7,136 -34.8,138 -33,138 -35.6,140.5 -38,143.5 -38.8,146.4 -39,150 -37.4,151 -34,153 -31,153.6 -27,153 -25,149.5 -22,146 -19,145.3 -15,143.5 -14.3,142.5 -10.8,141.5 -13,141 -17,139.5 -17.5,135.5 -15,136.8 -12.2,132.5 -11.3,129.5 -15,125 -14.5,122 -18,119 -20'],
 'Tasmania':['144.7 -40.7,148.3 -40.9,148 -43,146 -43.6'],
 'NZ North':['172.7 -34.5,175.5 -37,178.5 -37.7,177 -39.5,175.2 -41.6,174.7 -39.5,174.6 -37.5'],
 'NZ South':['172.7 -40.5,174.3 -41.7,172.7 -43.7,171 -45,170.5 -46,167.5 -46.2,168.5 -44.5']
};

function parseRing(s){
	return s.split(',').map(function(p){
		var a = p.split(' ');
		return [+a[0],+a[1]];
	});
}
var worldJson = {type:'FeatureCollection',features:[]};
Object.keys(mapShapes).forEach(function(name){
	worldJson.features.push({
		type:'Feature',
		properties:{name:name},
		geometry:{type:'MultiPolygon',coordinates:mapShapes[name].map(function(s){return [parseRing(s)];})}
	});
});
echarts.registerMap('world',worldJson);

var mapMax = Math.max.apply(null,mapValues);
var mapData = mapCountries.map(function(name,i){
	var c = echarts.color.lerp(mapValues[i]/mapMax,['#87CEEB','#104E8B']);
	return {name:name,value:mapValues[i],itemStyle:{areaColor:c,borderColor:c,borderWidth:0.6}};
});
mapData.push({name:'Caspian',value:0,itemStyle:{areaColor:'#fff',borderColor:'#fff',borderWidth:0.6}});

function yearColor(y){
	for(var i=1;i<yearStops.length;i++){
		if(y<=yearStops[i]){
			return echarts.color.lerp((y-yearStops[i-1])/(yearStops[i]-yearStops[i-1]),[yearColors[i-1],yearColors[i]]);
		}
	}
	return yearColors[yearColors.length-1];
}

// network nodes and links
var netCenter = [590,420];
var netData = nodeNames.map(function(name,i){
	return {
		name:name,
		value:[nodeX[i],nodeY[i]],
		symbolSize:2*Math.sqrt(nodeWeight[i]*10),
		itemStyle:{color:yearColor(nodeYear[i]),opacity:0.85},
		label:{fontSize:nodeFontSize[i]}
	};
});
var netLinkData = netLinks.map(function(l){
	var a = nodeNames.indexOf(l[0]), b = nodeNames.indexOf(l[1]);
	var mx = (nodeX[a]+nodeX[b])/2, my = (nodeY[a]+nodeY[b])/2;
	// bend away from the middle of the network unless listed as inward
	var dot = (nodeY[b]-nodeY[a])*(mx-netCenter[0])+(nodeX[a]-nodeX[b])*(my-netCenter[1]);
	var sign = dot>=0?1:-1;
	if(inwardLinks.indexOf(l[0]+'|'+l[1])>=0) sign = -sign;
	return {
		source:l[0],target:l[1],
		lineStyle:{
			width:1+l[2]*1.4,
			curveness:sign*0.22,
			color:yearColor((nodeYear[a]+nodeYear[b])/2),
			opacity:l[2]==1?0.22:0.32
		}
	};
});

// blue hexagon stamp, used twice
function stamp(cx,cy){
	var w = 22.5, h = 25.5, t = 13;
	var fill = new echarts.graphic.LinearGradient(0,0,0,1,[{offset:0,color:'#3559b8'},{offset:0.45,color:'#2f86dc'},{offset:1,color:'#22c1f2'}]);
	return {
		type:'group',x:cx,y:cy,silent:true,z:20,
		children:[
			{type:'polygon',z:20,shape:{points:[[0,-h],[w,-t],[w,t],[0,h],[-w,t],[-w,-t]]},style:{fill:'#fff',stroke:fill,lineWidth:2.4}},
			{type:'polygon',z:21,shape:{points:[[0,-h+5],[w-5,-t+2],[w-5,t-1],[0,h-5],[-w+5,t-1],[-w+5,-t+2]]},style:{fill:fill}},
			{type:'rect',z:22,shape:{x:-w+4,y:-9,width:2*w-8,height:4},style:{fill:'#fff'}},
			{type:'polygon',z:22,shape:{points:[[0,-17],[5,-11],[-5,-11]]},style:{fill:'#fff'}},
			{type:'polygon',z:22,shape:{points:[[-3,-5],[3,-5],[4,3],[-4,3]]},style:{fill:'#fff'}},
			{type:'polyline',z:22,shape:{points:[[-7,6],[7,3],[-6,11],[7,9],[-2,16]]},style:{stroke:'#fff',fill:null,lineWidth:2}}
		]
	};
}

function navArrow(points){
	return {type:'polygon',silent:true,z:8,shape:{points:points},style:{fill:'#fff',stroke:'#dfdfdf',lineWidth:1.5}};
}

var barStops = yearStops.map(function(y,i){
	return {offset:(y-yearStops[0])/(yearStops[yearStops.length-1]-yearStops[0]),color:yearColors[i]};
});

var chart = echarts.init(document.getElementById('main'),null,{renderer:'canvas'});
chart.setOption({
	animation:false,
	backgroundColor:'#fff',
	textStyle:{fontFamily:'"Liberation Sans",Arial,sans-serif'},
	title:[
		{text:'Country Scientific Production',left:7,top:60,textStyle:{fontSize:33,fontWeight:'normal',color:'#1a1a1a'}},
		{text:"Corresponding Author's Countries",left:176,top:741,textStyle:{fontSize:28.3,fontWeight:'normal',color:'#111'}},
		{text:'SCP: Single Country Publications, MCP: Multiple Country Publications',left:461,top:1316,textStyle:{fontSize:10.75,fontStyle:'italic',fontWeight:'normal',color:'#1a1ad0'}}
	],
	grid:[
		{left:178,top:781.6,width:905,height:496},
		{left:0,top:1360,width:1181,height:840},
		{left:577,top:2114,width:579,height:21}
	],
	xAxis:[
		{
			gridIndex:0,type:'value',min:-22.75,max:485.7,offset:2.6,
			name:'N. of Documents',nameLocation:'start',nameGap:0,
			nameTextStyle:{fontSize:16.5,color:'#222',align:'left',verticalAlign:'top',padding:[17,0,0,0]},
			axisLine:{show:true,onZero:false,lineStyle:{color:'#333',width:2}},
			axisTick:{show:true,length:3,lineStyle:{color:'#555'},customValues:docTicks},
			axisLabel:{color:'#666',fontSize:10,margin:6,customValues:docTicks},
			splitLine:{show:false}
		},
		{gridIndex:1,type:'value',min:0,max:1181,show:false},
		{
			gridIndex:2,type:'value',min:yearStops[0],max:yearStops[yearStops.length-1],z:12,
			axisLine:{show:false},
			axisTick:{show:true,inside:false,length:24,lineStyle:{color:'#6e6e6e',width:1.5},customValues:yearTicks},
			axisLabel:{color:'#555',fontSize:22,margin:28,fontFamily:'"Open Sans",sans-serif',customValues:yearTicks,formatter:function(v){return String(v);}},
			splitLine:{show:false}
		}
	],
	yAxis:[
		{
			gridIndex:0,type:'category',inverse:true,data:barCountries,
			axisLine:{show:false,onZero:false},
			axisTick:{show:true,length:3,alignWithLabel:true,lineStyle:{color:'#444'}},
			axisLabel:{color:'#666',fontSize:10.2,margin:6},
			splitLine:{show:true,alignWithLabel:true,lineStyle:{color:'#f5f5f5',width:1}}
		},
		{gridIndex:1,type:'value',min:0,max:840,inverse:true,show:false},
		{gridIndex:2,type:'value',min:0,max:1,show:false}
	],
	legend:{
		data:['SCP','MCP'],orient:'vertical',left:1104,top:1019,
		itemWidth:19,itemHeight:19,itemGap:2.5,icon:'rect',selectedMode:false,
		textStyle:{fontSize:10,color:'#333',padding:[0,0,0,-4]}
	},
	series:[
		{
			type:'map',map:'world',silent:true,showLegendSymbol:false,
			left:62.8,top:112.9,width:1040.4,height:520.2,
			boundingCoords:[[-180,90],[180,-90]],aspectScale:1,roam:false,
			itemStyle:{areaColor:'#cccccc',borderColor:'#cccccc',borderWidth:0.6},
			label:{show:false},
			emphasis:{disabled:true},select:{disabled:true},
			data:mapData
		},
		{name:'MCP',type:'bar',stack:'docs',xAxisIndex:0,yAxisIndex:0,barWidth:22,data:mcpValues,itemStyle:{color:'#F8766D'}},
		{name:'SCP',type:'bar',stack:'docs',xAxisIndex:0,yAxisIndex:0,barWidth:22,data:scpValues,itemStyle:{color:'#00BFC4'}},
		{
			type:'graph',coordinateSystem:'cartesian2d',xAxisIndex:1,yAxisIndex:1,layout:'none',silent:true,z:5,
			symbol:'circle',
			data:netData,links:netLinkData,
			label:{show:true,position:'inside',color:'#000',fontFamily:'"Open Sans",sans-serif',formatter:'{b}'},
			emphasis:{disabled:true}
		}
	],
	graphic:[
		{type:'text',left:49,top:1,silent:true,style:{text:'A',font:'53px "Noto Sans",sans-serif',fill:'#111'}},
		{type:'text',left:49,top:674,silent:true,style:{text:'B',font:'53px "Noto Sans",sans-serif',fill:'#111'}},
		{type:'text',left:50,top:1382,silent:true,style:{text:'C',font:'53px "Noto Sans",sans-serif',fill:'#111'}},
		{type:'text',left:1103,top:998,silent:true,style:{text:'Collaboration',font:'13.5px "Liberation Sans",sans-serif',fill:'#222'}},
		{type:'text',left:7,top:777,silent:true,style:{text:'Countries',font:'16.5px "Liberation Sans",sans-serif',fill:'#333'}},
		stamp(1061.5,542.5),
		stamp(993,1222),
		// navigation pad of the network viewer
		{type:'rect',silent:true,z:6,shape:{x:1105,y:1402,width:74,height:96,r:9},style:{fill:'#fff',stroke:'#e6e6e6',lineWidth:1.5}},
		navArrow([[1142,1410],[1149,1425],[1135,1425]]),
		navArrow([[1112,1439],[1128,1431],[1128,1447]]),
		navArrow([[1172,1439],[1157,1431],[1157,1447]]),
		navArrow([[1142,1470],[1135,1455],[1149,1455]]),
		navArrow([[1115,1481],[1132,1481],[1132,1487],[1115,1487]]),
		navArrow([[1159,1476],[1164,1476],[1164,1482],[1170,1482],[1170,1487],[1164,1487],[1164,1493],[1159,1493],[1159,1487],[1153,1487],[1153,1482],[1159,1482]]),
		// colour bar box
		{type:'rect',silent:true,z:8,shape:{x:557,y:2097,width:618,height:97,r:17},style:{fill:'#fff',stroke:'#e4e4e4',lineWidth:1.5}},
		{type:'rect',silent:true,z:9,shape:{x:577,y:2114,width:579,height:31},style:{fill:new echarts.graphic.LinearGradient(0,0,1,0,barStops),stroke:'#7a7a7a',lineWidth:1.5}}
	]
});
</script>
</body>
</html>
